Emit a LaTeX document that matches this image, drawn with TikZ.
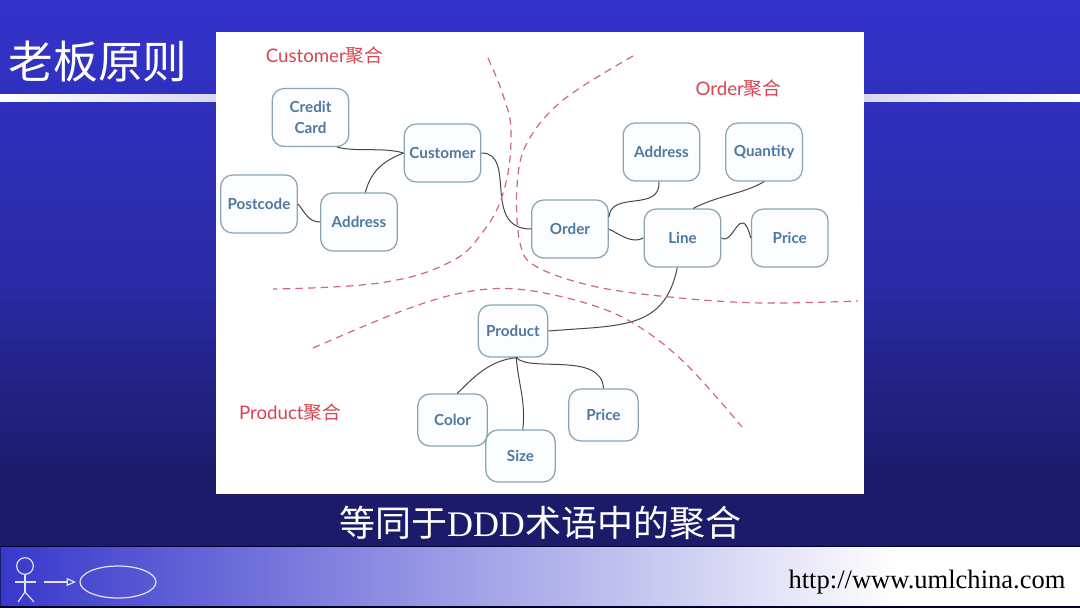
\documentclass[tikz,border=0pt]{standalone}
\usepackage{fontspec}
\setmainfont{Lato}
\newfontfamily\cjkfont{Noto Sans CJK SC}
\newfontfamily\timesfont{Liberation Serif}
\usetikzlibrary{positioning, arrows.meta, shapes.geometric}
\definecolor{slidetop}{RGB}{51,51,204}
\definecolor{slidemid}{RGB}{42,42,165}
\definecolor{slidebot}{RGB}{27,27,105}
\definecolor{stripe}{RGB}{216,216,242}
\definecolor{barleft}{RGB}{56,56,204}
\definecolor{boxline}{RGB}{138,165,182}
\definecolor{boxtext}{RGB}{78,120,160}
\definecolor{boxfill}{RGB}{251,253,254}
\definecolor{boundred}{RGB}{208,104,122}
\definecolor{namered}{RGB}{218,68,80}
\definecolor{actorline}{RGB}{226,226,248}

\begin{document}
\begin{tikzpicture}[
    x=0.75pt, y=-0.75pt,
    entity/.style={draw=boxline, fill=boxfill, rounded corners=9pt, line width=0.95pt, inner sep=0pt,
                   minimum width=57.5pt, minimum height=43.5pt, align=center, text=boxtext,
                   font=\fontsize{11.4}{16}\selectfont\bfseries},
    entitysmall/.style={entity, minimum width=52pt, minimum height=39pt},
    link/.style={draw=black!72, line width=0.75pt},
    boundary/.style={draw=boundred, line width=0.9pt, dash pattern=on 5.5pt off 4pt},
    aggname/.style={text=namered, inner sep=0pt, font=\fontsize{14}{17}\selectfont},
    slidetext/.style={text=white, inner sep=0pt, font=\cjkfont},
    actor/.style={draw=actorline, line width=0.9pt},
]

\useasboundingbox (0,0) rectangle (1080,608);

\shade[top color=slidetop, bottom color=slidemid] (0,0) rectangle (1080,280);
\shade[top color=slidemid, bottom color=slidebot] (0,280) rectangle (1080,480);
\fill[slidebot] (0,480) rectangle (1080,608);
\shade[left color=white, right color=stripe] (0,94) rectangle (216,101);
\shade[left color=stripe, right color=white] (864,94) rectangle (1080,101);
\fill[black!80!blue] (0,546) rectangle (1080,547);
\shade[left color=barleft, right color=white] (1,547) rectangle (900,606);
\fill[white] (900,547) rectangle (1080,606);
\fill[black!80!blue] (0,606) rectangle (1080,608);
\fill[white] (216,32) rectangle (864,494);

\node[slidetext, font=\cjkfont\fontsize{33.5}{40}\selectfont] (title) at (98,62) {老板原则};
\node[slidetext, font=\cjkfont\fontsize{27}{32}\selectfont] (caption) at (540,523) {等同于{\timesfont DDD}术语中的聚合};
\node[inner sep=0pt, text=black, font=\timesfont\fontsize{19.9}{24}\selectfont] (url) at (927,582) {http://www.umlchina.com};

\node[aggname] (customername) at (324.5,55) {Customer{\cjkfont 聚合}};
\node[aggname] (ordername) at (738.5,88) {Order{\cjkfont 聚合}};
\node[aggname] (productname) at (290,412) {Product{\cjkfont 聚合}};

\node[entity] (customer) at (442.5,153) {Customer};
\node[entity] (credit) at (310.5,117.5) {Credit\\Card};
\node[entity] (postcode) at (259,204) {Postcode};
\node[entity] (addressone) at (359,222) {Address};
\node[entity] (order) at (570,229) {Order};
\node[entity] (line) at (682.5,238) {Line};
\node[entity, right=22pt of line] (priceone) {Price};
\node[entity] (addresstwo) at (661.5,152) {Address};
\node[entity, right=18.5pt of addresstwo] (quantity) {Quantity};
\node[entitysmall] (product) at (513,331) {Product};
\node[entitysmall] (color) at (452.5,420) {Color};
\node[entitysmall] (size) at (520.5,456) {Size};
\node[entitysmall] (pricetwo) at (603.5,415) {Price};

\draw[link] (credit.-48) .. controls +(18,5) and +(-20,-6) .. (customer.west);
\draw[link] (addressone.78) .. controls +(6,-22) and +(-20,8) .. (customer.west);
\draw[link] (postcode.east) .. controls +(7,8) and +(-12,0) .. (addressone.west);
\draw[link] (customer.east) .. controls +(36,0) and +(-50,0) .. (order.west);
\draw[link] (addresstwo.-95) .. controls +(2,31) and +(2,-27) .. (order.17);
\draw[link] (order.east) .. controls +(12,6) and +(-12,6) .. (line.west);
\draw[link] (quantity.south) .. controls +(-20,12) and +(25,-13) .. (line.70);
\draw[link] (line.east) .. controls +(12,8) and +(-10,-38) .. (priceone.west);
\draw[link] (line.-100) .. controls +(-13,63) and +(72,-6) .. (product.east);
\draw[link] (product.-80) .. controls +(-30,2) and +(13,-12) .. (color.80);
\draw[link] (product.-83) .. controls +(2,27) and +(3,-30) .. (size.85);
\draw[link] (product.-83) .. controls +(14,15) and +(-2,-37) .. (pricetwo.north);

\draw[boundary] plot[smooth, tension=0.7] coordinates {(488,58) (503,95) (511,133) (504,190) (482,233) (448,263) (379,283) (273,289)};
\draw[boundary] plot[smooth, tension=0.6] coordinates {(633,56) (563,100) (527,143) (517,187) (520,243) (537,267) (597,287) (680,298) (763,303) (858,301)};
\draw[boundary] plot[smooth, tension=0.6] coordinates {(313,348) (399,312) (461,293) (516,289) (582,302) (633,323) (685,363) (742,427)};

\node[actor, circle, inner sep=0pt, minimum size=12.5pt] (head) at (25,566) {};
\node[actor, ellipse, inner sep=0pt, minimum width=57pt, minimum height=24pt] (usecase) at (118,582) {};
\coordinate (hip) at (25,592);
\coordinate (handl) at (15,582);
\coordinate (handr) at (36,582);
\coordinate (footl) at (18,602);
\coordinate (footr) at (34,602);
\coordinate (arrowstart) at (44,582);
\coordinate (arrowend) at (76,582);
\draw[actor] (head) -- (hip);
\draw[actor] (handl) -- (handr);
\draw[actor] (footl) -- (hip) -- (footr);
\draw[actor, -{Triangle[open, length=7pt, width=6pt]}] (arrowstart) -- (arrowend);

\end{tikzpicture}
\end{document}
